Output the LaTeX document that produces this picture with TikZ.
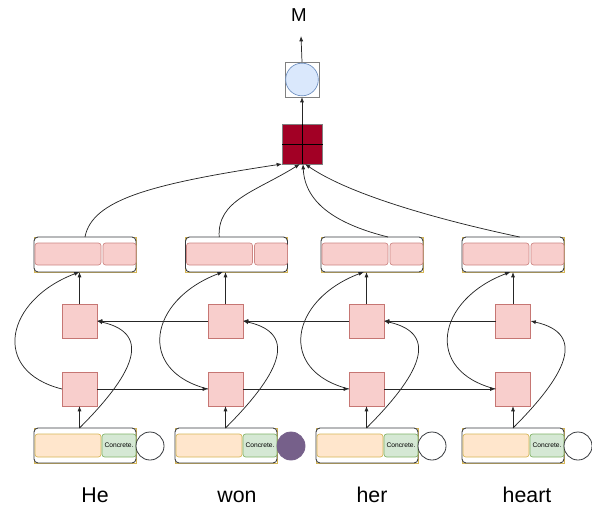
\documentclass[tikz,border=0pt]{standalone}
\usepackage{fontspec}
\setmainfont{Liberation Sans}
\usetikzlibrary{arrows.meta}
\definecolor{pinkF}{HTML}{F8CECC}
\definecolor{pinkD}{HTML}{B85450}
\definecolor{peachF}{HTML}{FFE6CC}
\definecolor{peachD}{HTML}{D6B656}
\definecolor{mintF}{HTML}{D5E8D4}
\definecolor{mintD}{HTML}{82B366}
\definecolor{skyF}{HTML}{DAE8FC}
\definecolor{skyD}{HTML}{6C8EBF}
\definecolor{plum}{HTML}{76608A}
\definecolor{crimson}{HTML}{A20025}
\definecolor{edgeG}{HTML}{36393D}

\begin{document}
\begin{tikzpicture}[
  x=0.75pt, y=-0.75pt,
  every node/.style={inner sep=0pt, outer sep=0pt},
  conn/.style={draw=black!85, line width=0.55pt, -{Latex[length=4pt,width=3pt]}},
  frameK/.style={rectangle, draw=peachD, line width=0.45pt,
                 minimum width=76.5pt, minimum height=26.25pt},
  rowbox/.style={rectangle, rounded corners=3pt, draw=edgeG, fill=white, line width=0.65pt,
                 minimum width=76.5pt, minimum height=26.25pt},
  hidL/.style={rectangle, rounded corners=2pt, draw=pinkD!70, fill=pinkF, line width=0.5pt,
               minimum width=49.5pt, minimum height=16.5pt},
  hidR/.style={rectangle, rounded corners=2pt, draw=pinkD!70, fill=pinkF, line width=0.5pt,
               minimum width=24.75pt, minimum height=16.5pt},
  embL/.style={rectangle, rounded corners=2pt, draw=peachD, fill=peachF, line width=0.5pt,
               minimum width=49.5pt, minimum height=17.25pt},
  embR/.style={rectangle, rounded corners=2pt, draw=mintD, fill=mintF, line width=0.5pt,
               minimum width=25.5pt, minimum height=17.25pt, font=\fontsize{5}{6}\selectfont},
  cell/.style={rectangle, draw=pinkD!80, fill=pinkF, line width=0.5pt,
               minimum width=26.25pt, minimum height=25.5pt},
  tag/.style={circle, draw=edgeG, fill=white, line width=0.6pt, minimum size=21pt},
  tagon/.style={circle, draw=plum, fill=plum, line width=0.6pt, minimum size=21pt},
  word/.style={anchor=base, font=\fontsize{16}{19}\selectfont}
]
\useasboundingbox (0,0) rectangle (592,510);

% OUTPUT
\node[font=\fontsize{14}{16}\selectfont] (m) at (299,15) {M};
\coordinate (mout) at (301,36);
\node[rectangle, draw=gray, line width=0.6pt, minimum width=25.5pt, minimum height=26.25pt] (soft) at (302,79.5) {};
\node[circle, draw=skyD, fill=skyF, line width=0.5pt, minimum size=24.5pt] (softc) at (302,79.5) {};
\node[rectangle, draw=gray, fill=crimson, line width=0.6pt, minimum size=30pt] (sum) at (302,144) {};
\draw[line width=0.6pt] (sum.north) -- (sum.south);
\draw[line width=0.6pt] (sum.west) -- ([xshift=1pt]sum.east);

% ROW: CONCATENATED STATES
\node[frameK] (k1) at (85,254.5) {};    \node[rowbox] (t1) at (85,254.5) {};
\node[frameK] (k2) at (236.5,254.5) {}; \node[rowbox] (t2) at (236.5,254.5) {};
\node[frameK] (k3) at (372,254.5) {};   \node[rowbox] (t3) at (372,254.5) {};
\node[frameK] (k4) at (513,254.5) {};   \node[rowbox] (t4) at (513,254.5) {};
\node[hidL] (t1a) at (68,254)  {};   \node[hidR] (t1b) at (119.5,254) {};
\node[hidL] (t2a) at (219.5,254) {}; \node[hidR] (t2b) at (271,254) {};
\node[hidL] (t3a) at (355,254) {};   \node[hidR] (t3b) at (406.5,254) {};
\node[hidL] (t4a) at (496,254) {};   \node[hidR] (t4b) at (547.5,254) {};

% ROW: BACKWARD / FORWARD CELLS
\node[cell] (u1) at (79.5,321) {};  \node[cell] (l1) at (79.5,389) {};
\node[cell] (u2) at (225.5,321) {}; \node[cell] (l2) at (225.5,389) {};
\node[cell] (u3) at (366.5,321) {}; \node[cell] (l3) at (366.5,389) {};
\node[cell] (u4) at (513,321) {};   \node[cell] (l4) at (513,389) {};

% ROW: INPUT EMBEDDINGS
\node[frameK] (c1) at (85,445.5) {};  \node[rowbox] (b1) at (85,445.5) {};
\node[frameK] (c2) at (226,445.5) {}; \node[rowbox] (b2) at (226,445.5) {};
\node[frameK] (c3) at (367,445.5) {}; \node[rowbox] (b3) at (367,445.5) {};
\node[frameK] (c4) at (513,445.5) {}; \node[rowbox] (b4) at (513,445.5) {};
\node[embL] (b1a) at (68,445.5) {};  \node[embR] (b1b) at (119,445.5) {Concrete.};
\node[embL] (b2a) at (209,445.5) {}; \node[embR] (b2b) at (260,445.5) {Concrete.};
\node[embL] (b3a) at (350,445.5) {}; \node[embR] (b3b) at (401,445.5) {Concrete.};
\node[embL] (b4a) at (496,445.5) {}; \node[embR] (b4b) at (547,445.5) {Concrete.};
\node[tag]   (o1) at (150,446) {};
\node[tagon] (o2) at (291,446) {};
\node[tag]   (o3) at (432,446) {};
\node[tag]   (o4) at (578,446) {};

\node[word] (w1) at (95,502)  {He};
\node[word] (w2) at (237,502) {won};
\node[word] (w3) at (372,502) {her};
\node[word] (w4) at (527,502) {heart};

% CONNECTORS
\draw[conn] (soft.north) -- (mout);
\draw[conn] (sum.north) -- (soft.south);

\draw[conn] (t1.north) .. controls +(7,-37) and +(-132,20) .. (sum.south west);
\draw[conn] ([xshift=-13pt]t2.north) .. controls +(-2,-37) and +(-45,28) .. ([xshift=-1.5pt]sum.south);
\draw[conn] ([xshift=12pt]t3.north) .. controls +(-48,-12) and +(2,41) .. ([xshift=0.75pt]sum.south);
\draw[conn] ([xshift=5pt]t4.north) .. controls +(-80,-17) and +(45,31) .. ([xshift=2.25pt]sum.south);

\draw[conn] (u1.north) -- (u1 |- t1.south);
\draw[conn] (u2.north) -- (u2 |- t2.south);
\draw[conn] (u3.north) -- (u3 |- t3.south);
\draw[conn] (u4.north) -- (u4 |- t4.south);

\draw[conn] (l1.west) .. controls +(-72,-18) and +(-74,28) .. (u1 |- t1.south);
\draw[conn] (l2.west) .. controls +(-72,-18) and +(-74,28) .. ([xshift=-2pt]u2 |- t2.south);
\draw[conn] (l3.west) .. controls +(-72,-18) and +(-74,28) .. ([xshift=-2pt]u3 |- t3.south);
\draw[conn] (l4.west) .. controls +(-72,-18) and +(-74,28) .. ([xshift=-2pt]u4 |- t4.south);

\draw[conn] (l1 |- b1.north) -- (l1.south);
\draw[conn] (l2 |- b2.north) -- (l2.south);
\draw[conn] (l3 |- b3.north) -- (l3.south);
\draw[conn] (l4 |- b4.north) -- (l4.south);

\draw[conn] (l1 |- b1.north) .. controls +(51,-51) and +(58,13) .. (u1.east);
\draw[conn] (l2 |- b2.north) .. controls +(51,-51) and +(58,13) .. (u2.east);
\draw[conn] (l3 |- b3.north) .. controls +(51,-51) and +(58,13) .. (u3.east);
\draw[conn] (l4 |- b4.north) .. controls +(51,-51) and +(58,13) .. (u4.east);

\draw[conn] (l1.east) -- (l2.west);
\draw[conn] (l2.east) -- (l3.west);
\draw[conn] (l3.east) -- (l4.west);
\draw[conn] (u2.west) -- (u1.east);
\draw[conn] (u3.west) -- (u2.east);
\draw[conn] (u4.west) -- (u3.east);
\end{tikzpicture}
\end{document}
